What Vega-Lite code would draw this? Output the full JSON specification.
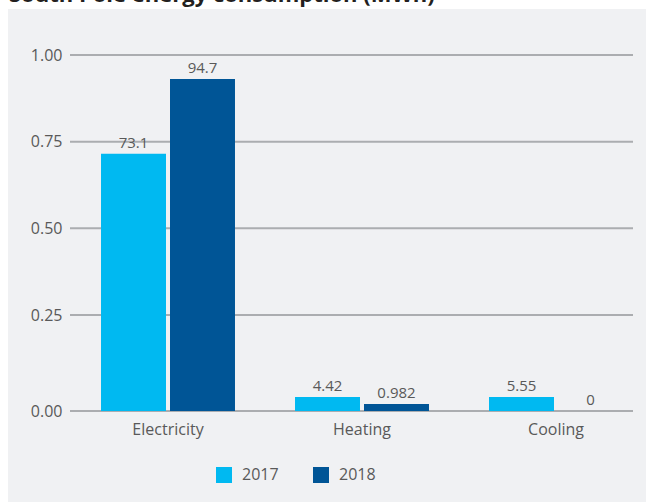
{
  "$schema": "https://vega.github.io/schema/vega-lite/v6.json",
  "width": 638,
  "height": 493,
  "autosize": {"type": "none"},
  "padding": {"left": 8, "top": 9, "right": 0, "bottom": 0},
  "background": "#ffffff",
  "title": {
    "text": "South Pole energy consumption (MWh)",
    "anchor": "start",
    "frame": "group",
    "offset": 0,
    "dy": 15,
    "dx": 1,
    "baseline": "alphabetic",
    "font": "Open Sans",
    "fontSize": 22,
    "fontWeight": "bold",
    "color": "#231f20"
  },
  "datasets": {
    "energy": [
      {"category": "Electricity", "year": "2017", "value": 0.7153, "label": "73.1"},
      {"category": "Electricity", "year": "2018", "value": 0.9308, "label": "94.7"},
      {"category": "Heating", "year": "2017", "value": 0.0365, "label": "4.42"},
      {"category": "Heating", "year": "2018", "value": 0.0182, "label": "0.982"},
      {"category": "Cooling", "year": "2017", "value": 0.0365, "label": "5.55"},
      {"category": "Cooling", "year": "2018", "value": 0, "label": "0"}
    ],
    "grid": [
      {"value": 0},
      {"value": 0.25},
      {"value": 0.5},
      {"value": 0.75},
      {"value": 1}
    ]
  },
  "layer": [
    {
      "data": {"name": "grid"},
      "mark": {"type": "rule", "color": "#abadb0", "strokeWidth": 2},
      "encoding": {
        "y": {
          "field": "value",
          "type": "quantitative",
          "scale": {"domain": [0, 0.25, 1], "range": [402, 306, 46], "nice": false, "zero": false},
          "axis": {
            "values": [0, 0.25, 0.5, 0.75, 1],
            "format": ".2f",
            "grid": false,
            "domain": false,
            "ticks": false,
            "tickSize": 0,
            "labelPadding": 8,
            "offset": -62,
            "title": null,
            "labelFont": "Open Sans",
            "labelFontSize": 16,
            "labelColor": "#595959"
          }
        },
        "x": {"datum": 0, "type": "quantitative", "scale": {"domain": [0, 1], "range": [62, 625]}, "axis": null},
        "x2": {"datum": 1}
      }
    },
    {
      "data": {"name": "energy"},
      "encoding": {
        "x": {
          "field": "category",
          "type": "nominal",
          "sort": ["Electricity", "Heating", "Cooling"],
          "scale": {"domain": ["Electricity", "Heating", "Cooling"], "range": [63, 645], "paddingInner": 0, "paddingOuter": 0},
          "axis": {
            "title": null,
            "orient": "bottom",
            "offset": -91,
            "domain": false,
            "ticks": false,
            "tickSize": 0,
            "grid": false,
            "labelPadding": 10,
            "labelAngle": 0,
            "labelFont": "Open Sans",
            "labelFontSize": 16,
            "labelColor": "#595959"
          }
        },
        "xOffset": {
          "field": "year",
          "type": "nominal",
          "scale": {"domain": ["2017", "2018"], "paddingInner": 0.058, "paddingOuter": 0.435}
        },
        "y": {
          "field": "value",
          "type": "quantitative",
          "scale": {"domain": [0, 0.25, 1], "range": [402, 306, 46], "nice": false, "zero": false},
          "axis": {
            "values": [0, 0.25, 0.5, 0.75, 1],
            "format": ".2f",
            "grid": false,
            "domain": false,
            "ticks": false,
            "tickSize": 0,
            "labelPadding": 8,
            "offset": -62,
            "title": null,
            "labelFont": "Open Sans",
            "labelFontSize": 16,
            "labelColor": "#595959"
          }
        }
      },
      "layer": [
        {
          "mark": {"type": "bar"},
          "encoding": {
            "color": {
              "field": "year",
              "type": "nominal",
              "scale": {"domain": ["2017", "2018"], "range": ["#00b9f1", "#005596"]},
              "legend": {
                "title": null,
                "orient": "none",
                "legendX": 208,
                "legendY": 458,
                "direction": "horizontal",
                "symbolType": "square",
                "symbolSize": 256,
                "symbolStrokeWidth": 0,
                "symbolOpacity": 1,
                "labelFont": "Open Sans",
                "labelFontSize": 16,
                "labelColor": "#595959",
                "labelOffset": 10,
                "columnPadding": 34,
                "padding": 0
              }
            }
          }
        },
        {
          "mark": {"type": "text", "baseline": "alphabetic", "dy": -6, "font": "Open Sans", "fontSize": 15, "color": "#595959"},
          "encoding": {
            "text": {"field": "label", "type": "nominal"}
          }
        }
      ]
    }
  ],
  "resolve": {"scale": {"x": "independent"}, "axis": {"x": "independent"}},
  "config": {
    "view": {"fill": "#f0f1f3", "stroke": null}
  }
}
